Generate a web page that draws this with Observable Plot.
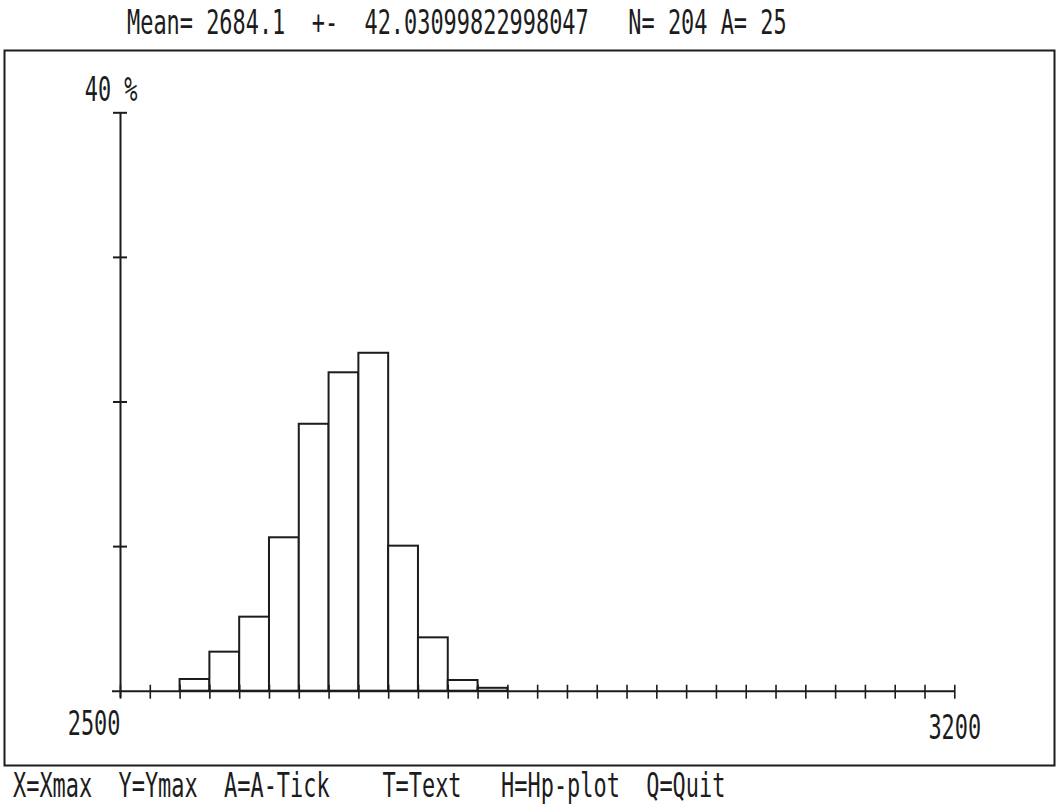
<!DOCTYPE html>
<html><head><meta charset="utf-8">
<script src="https://cdn.jsdelivr.net/npm/d3@7"></script>
<script src="https://cdn.jsdelivr.net/npm/@observablehq/plot@0.6"></script>
<style>
body{margin:0;background:#fff;width:1056px;height:807px;overflow:hidden;position:relative;font-family:"DejaVu Sans Mono",monospace;color:#1c1c1c}
.t{position:absolute;font-size:33px;line-height:33px;white-space:pre;transform-origin:0 0;transform:scaleX(0.664)}
#title{left:127px;top:6px}
#footer{left:13px;top:769px}
#chart{position:absolute;left:0;top:48px}
</style></head><body>
<div id="title" class="t"></div>
<div id="chart"></div>
<div id="footer" class="t"></div>
<script>
// Histogram data (percent of N per bin), bin width A = 25
const binStarts = [2550, 2575, 2600, 2625, 2650, 2675, 2700, 2725, 2750, 2775, 2800];
const percents  = [0.81, 2.70, 5.12, 10.61, 18.46, 22.02, 23.37, 10.03, 3.69, 0.74, 0.2];
const binWidth = 25;
const xDomain = [2500, 3200];
const yDomain = [0, 40];
const xTicks = d3.range(2500, 3201, 25);
const yTicks = [10, 20, 30, 40];
const xTickLabels = ["2500", "3200"];
const yTopLabel = "40 %";
const titleText = "Mean= 2684.1  +-  42.03099822998047   N= 204 A= 25";
const footerText = "X=Xmax  Y=Ymax  A=A-Tick    T=Text   H=Hp-plot  Q=Quit";

document.getElementById("title").textContent = titleText;
document.getElementById("footer").textContent = footerText;

const ink = "#1c1c1c";
const bars = binStarts.map((s, i) => ({x1: s, x2: s + binWidth, y: percents[i]}));

const plot = Plot.plot({
  width: 1056, height: 719,
  marginTop: 2, marginBottom: 2, marginLeft: 4, marginRight: 2,
  x: {domain: xDomain, range: [120, 954.3], axis: null},
  y: {domain: yDomain, range: [642.7, 64.3], axis: null},
  style: {background: "transparent", fontFamily: "DejaVu Sans Mono", fontSize: "33px", color: ink},
  marks: [
    Plot.frame({stroke: ink, strokeWidth: 2}),
    Plot.rectY(bars, {x1: "x1", x2: "x2", y: "y", fill: "white", stroke: ink, strokeWidth: 2}),
    Plot.ruleY([0], {x1: xDomain[0], x2: xDomain[1], insetLeft: -8, stroke: ink, strokeWidth: 2}),
    Plot.ruleX([xDomain[0]], {y1: yDomain[1], y2: 0, insetBottom: -7, stroke: ink, strokeWidth: 2}),
    Plot.ruleX(xTicks, {x: d => d, y1: 0, y2: 0, insetTop: -6, insetBottom: -8, stroke: ink, strokeWidth: 1.6}),
    Plot.ruleY(yTicks, {y: d => d, x1: xDomain[0], x2: xDomain[0], insetLeft: -7, insetRight: -7, stroke: ink, strokeWidth: 2}),
    Plot.text([xTickLabels[0]], {x: xDomain[0], y: 0, text: d => d, textAnchor: "end", dx: 0, dy: 33, fill: ink}),
    Plot.text([xTickLabels[1]], {x: xDomain[1], y: 0, text: d => d, dy: 37, fill: ink}),
    Plot.text([yTopLabel], {x: xDomain[0], y: yDomain[1], text: d => d, textAnchor: "end", dx: 17, dy: -22, fill: ink})
  ]
});
d3.select(plot).selectAll("text").each(function() {
  const n = this.textContent.length;
  d3.select(this).attr("textLength", n * 13.2).attr("lengthAdjust", "spacingAndGlyphs");
});
document.getElementById("chart").appendChild(plot);
</script>
</body></html>
